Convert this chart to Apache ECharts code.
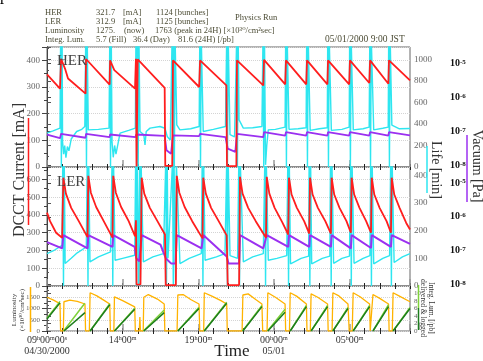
<!DOCTYPE html>
<html><head><meta charset="utf-8">
<script src="https://cdn.jsdelivr.net/npm/echarts@6/dist/echarts.min.js"></script>
<style>html,body{margin:0;padding:0;background:#fff}#c{width:483px;height:361px}</style>
</head><body><div id="c"></div>
<script>
// ---- data (hours after 09:00 04/30/2000, value) ----
const xTickHours = [0, 5, 10, 15, 20];
const xTickLabels = ['09{s|h}00{s|m}00{s|s}\n04/30/2000', '14{s|h}00{s|m}', '19{s|h}00{s|m}', '00{s|h}00{s|m}\n05/01', '05{s|h}00{s|m}'];

const herCurrent = [[0,347],[0.86,294],[0.93,406],[1.19,369],[1.39,332],[2.55,275],[2.58,405],[4.14,309],[4.17,400],[4.45,363],[5.82,294],[5.88,406],[5.92,2],[5.97,2],[6.0,404],[7.78,297],[7.82,4],[8.28,4],[8.33,400],[10.06,300],[10.12,400],[11.86,306],[11.9,3],[12.52,3],[12.56,400],[14.3,306],[14.35,402],[15.75,310],[15.8,400],[17.14,310],[17.19,400],[18.54,310],[18.58,400],[19.98,310],[20.03,400],[21.31,315],[21.36,400],[22.57,312],[22.61,400],[24,325]];

const herLife = [[0,315],[0.4,335],[0.86,361],[0.9,1200],[0.95,0],[1.0,1200],[1.03,235],[1.1,120],[1.17,200],[1.25,86],[1.35,190],[1.45,150],[1.6,260],[1.96,330],[2.3,350],[2.5,376],[2.56,1200],[2.61,0],[2.66,1200],[2.73,345],[3.4,350],[4.1,361],[4.15,1200],[4.2,0],[4.25,1200],[4.3,235],[4.38,90],[4.47,200],[4.56,120],[4.83,315],[5.4,340],[5.84,361],[5.88,1200],[5.93,0],[5.98,1200],[6.03,0],[6.08,1200],[6.15,330],[6.4,300],[6.48,206],[6.56,330],[6.81,361],[7.47,376],[7.8,360],[7.95,283],[8.15,250],[8.27,1200],[8.32,0],[8.37,1200],[8.42,0],[8.47,1200],[8.58,392],[8.79,345],[9.5,355],[10.06,376],[10.1,1200],[10.15,0],[10.2,1200],[10.33,330],[11.0,350],[11.8,376],[11.88,1200],[11.93,0],[11.98,1200],[12.1,300],[12.4,280],[12.54,1200],[12.59,0],[12.64,1200],[12.7,438],[12.98,361],[13.6,365],[14.21,376],[14.28,1200],[14.33,0],[14.38,1200],[14.45,20],[14.53,200],[14.63,345],[15.1,350],[15.74,370],[15.78,1200],[15.83,0],[15.88,1200],[16.0,350],[16.6,355],[17.13,365],[17.17,1200],[17.22,0],[17.27,1200],[17.4,340],[18.0,355],[18.53,365],[18.56,1200],[18.61,0],[18.66,1200],[18.8,340],[19.5,350],[19.98,370],[20.01,1200],[20.06,0],[20.11,1200],[20.25,345],[20.9,355],[21.3,370],[21.34,1200],[21.39,0],[21.44,1200],[21.6,345],[22.2,360],[22.56,370],[22.59,1200],[22.64,0],[22.69,1200],[22.8,390],[23.3,355],[24,358]];

const herVacuum = [[0,8.0e-8],[0.86,6.3e-8],[0.93,8.5e-8],[2.55,6.5e-8],[2.58,8.5e-8],[4.14,6.8e-8],[4.17,8.1e-8],[5.85,6.8e-8],[5.9,8.1e-8],[7.78,7.4e-8],[7.9,2.8e-8],[8.2,2.2e-8],[8.33,7.6e-8],[10.06,7.3e-8],[10.12,8.5e-8],[11.8,6.8e-8],[11.95,3.1e-8],[12.45,2.5e-8],[12.56,8.5e-8],[14.3,6.8e-8],[14.35,9.5e-8],[15.75,7.5e-8],[15.8,9.5e-8],[17.14,7.5e-8],[17.19,9.5e-8],[18.54,7.5e-8],[18.58,9.5e-8],[19.98,7.5e-8],[20.03,9.5e-8],[21.31,7.5e-8],[21.36,9.5e-8],[22.57,7.5e-8],[22.61,9.5e-8],[24,7.6e-8]];

const lerCurrent = [[0,413],[0.2,365],[0.6,300],[1.0,272],[1.08,610],[1.25,520],[1.6,440],[2.1,365],[2.68,275],[2.73,620],[2.9,525],[3.25,445],[3.75,365],[4.33,272],[4.38,620],[4.55,525],[4.9,445],[5.4,365],[5.82,280],[5.88,370],[5.92,8],[6.18,8],[6.26,610],[6.43,520],[6.8,440],[7.3,365],[7.8,290],[7.85,5],[8.52,5],[8.58,620],[8.75,525],[9.1,445],[9.6,365],[10.28,268],[10.33,610],[10.5,520],[10.85,440],[11.35,365],[11.88,285],[11.95,5],[12.7,5],[12.76,615],[12.93,520],[13.3,440],[13.8,365],[14.48,272],[14.53,615],[14.7,520],[15.05,440],[15.55,360],[15.95,290],[16.0,610],[16.17,515],[16.52,440],[17.0,365],[17.34,295],[17.39,610],[17.56,515],[17.91,440],[18.4,365],[18.77,295],[18.82,610],[18.99,515],[19.34,440],[19.8,365],[20.09,300],[20.14,610],[20.31,515],[20.66,440],[21.1,365],[21.42,300],[21.47,610],[21.64,515],[21.99,440],[22.45,365],[22.74,300],[22.79,610],[22.96,515],[23.31,440],[23.75,355],[24,318]];

const lerLife = [[0,117],[0.5,130],[1.0,147],[1.04,450],[1.09,0],[1.14,450],[1.2,81],[1.6,100],[2.0,120],[2.6,141],[2.66,450],[2.71,0],[2.76,450],[2.84,87],[3.4,105],[4.2,123],[4.3,450],[4.35,0],[4.4,450],[4.5,93],[5.0,100],[5.8,111],[5.86,450],[5.91,0],[5.96,450],[6.05,0],[6.12,450],[6.17,0],[6.22,450],[6.37,87],[7.0,105],[7.7,117],[7.85,450],[7.9,0],[7.95,450],[8.0,100],[8.3,450],[8.35,0],[8.4,450],[8.5,0],[8.55,450],[8.79,81],[9.4,100],[10.2,117],[10.26,450],[10.31,0],[10.36,450],[10.45,93],[11.2,105],[11.77,117],[11.88,450],[11.93,0],[11.98,450],[12.1,110],[12.6,100],[12.68,450],[12.73,0],[12.78,450],[12.98,87],[13.6,105],[14.3,117],[14.4,450],[14.45,0],[14.5,450],[14.63,93],[15.2,100],[15.85,110],[15.92,450],[15.97,0],[16.02,450],[16.1,80],[16.8,100],[17.3,108],[17.33,450],[17.38,0],[17.43,450],[17.5,80],[18.2,100],[18.7,108],[18.74,450],[18.79,0],[18.84,450],[18.95,82],[19.5,100],[20.0,108],[20.07,450],[20.12,0],[20.17,450],[20.3,82],[20.9,100],[21.35,110],[21.4,450],[21.45,0],[21.5,450],[21.6,80],[22.2,100],[22.65,110],[22.72,450],[22.77,0],[22.82,450],[22.95,85],[23.5,105],[24,117]];

const lerVacuum = [[0,1.8e-7],[1.0,1.17e-7],[1.08,2.9e-7],[2.68,1.17e-7],[2.73,2.9e-7],[4.33,1.3e-7],[4.38,2.9e-7],[5.8,1.3e-7],[5.9,6e-8],[6.1,4.8e-8],[6.26,2.9e-7],[7.5,1.5e-7],[7.85,6e-8],[8.2,4.2e-8],[8.5,4.2e-8],[8.58,2.9e-7],[10.22,1.17e-7],[10.33,2.9e-7],[11.88,6.7e-8],[12.0,4.2e-8],[12.7,4.2e-8],[12.76,2.9e-7],[14.3,1.17e-7],[14.53,2.9e-7],[15.95,1.3e-7],[16.0,2.9e-7],[17.34,1.3e-7],[17.39,2.9e-7],[18.77,1.3e-7],[18.82,2.9e-7],[20.09,1.17e-7],[20.14,2.9e-7],[21.42,1.2e-7],[21.47,2.9e-7],[22.74,1.3e-7],[22.79,2.9e-7],[24,1.6e-7]];

const luminosity = [[0,1500],[0.4,1380],[0.86,1220],[0.9,0],[1.08,0],[1.12,1300],[1.5,1370],[2.0,1320],[2.51,1200],[2.55,0],[2.8,0],[2.85,1700],[3.3,1560],[3.8,1350],[4.15,1200],[4.19,0],[4.42,0],[4.46,1520],[5.0,1350],[5.8,1070],[5.84,0],[6.1,0],[6.14,620],[6.18,0],[6.36,0],[6.4,1500],[6.7,1620],[7.3,1420],[7.75,1200],[7.79,0],[8.6,0],[8.65,1600],[9.0,1620],[9.5,1400],[10.05,1200],[10.1,0],[10.36,0],[10.4,1700],[10.9,1550],[11.5,1350],[11.88,1200],[11.92,0],[12.9,0],[12.95,1600],[13.3,1650],[13.8,1400],[14.21,1200],[14.26,0],[14.55,0],[14.6,1700],[15.1,1500],[15.74,1200],[15.78,0],[16.03,0],[16.08,1700],[16.5,1550],[17.15,1200],[17.19,0],[17.41,0],[17.46,1650],[17.9,1500],[18.55,1200],[18.59,0],[18.85,0],[18.9,1700],[19.3,1560],[19.9,1200],[19.98,0],[20.18,0],[20.24,1700],[20.7,1520],[21.33,1200],[21.37,0],[21.5,0],[21.55,1620],[22.0,1450],[22.58,1200],[22.62,0],[22.83,0],[22.88,1700],[23.3,1550],[24,1300]];

const integLogged = [[0,3.2],[0.86,7.5],[0.87,'-'],[1.12,0],[2.51,4.9],[2.52,'-'],[2.85,0],[4.15,7.0],[4.16,'-'],[4.46,0],[5.8,5.8],[5.81,'-'],[6.4,0],[7.75,4.9],[7.76,'-'],[8.65,0],[10.05,6.0],[10.06,'-'],[10.4,0],[11.88,7.4],[11.89,'-'],[12.95,0],[14.21,6.5],[14.22,'-'],[14.6,0],[15.74,5.0],[15.75,'-'],[16.08,0],[17.15,6.5],[17.16,'-'],[17.46,0],[18.55,6.5],[18.56,'-'],[18.9,0],[19.9,6.0],[19.91,'-'],[20.24,0],[21.33,6.5],[21.34,'-'],[21.55,0],[22.58,6.5],[22.59,'-'],[22.88,0],[24,6.0]];

const integDelivered = [[0,3.4],[0.86,7.9],[0.87,'-'],[1.1,0],[2.5,7.4],[2.51,'-'],[2.85,0],[4.15,7.3],[4.16,'-'],[4.46,0],[5.8,6.1],[5.81,'-'],[6.37,0],[7.75,5.6],[7.76,'-'],[8.65,0],[10.05,6.3],[10.06,'-'],[10.38,0],[11.88,7.7],[11.89,'-'],[12.93,0],[14.21,6.8],[14.22,'-'],[14.58,0],[15.74,5.8],[15.75,'-'],[16.08,0],[17.15,6.8],[17.16,'-'],[17.46,0],[18.55,6.8],[18.56,'-'],[18.9,0],[19.9,6.3],[19.91,'-'],[20.24,0],[21.33,6.8],[21.34,'-'],[21.55,0],[22.58,7.0],[22.59,'-'],[22.88,0],[24,6.3]];

// ---- styling / layout ----
const SERIF = "'Liberation Serif','DejaVu Serif',serif";
const RED = '#ff1e1e', CYAN = '#2ee6f0', PURPLE = '#9b30f0', ORANGE = '#ffb300', DKGREEN = '#1d7d1d', LTGREEN = '#7fd23a';
const grids = [{left:47, top:47, width:363, height:120}, {left:47, top:167, width:363, height:119}, {left:47, top:286, width:363, height:45}]
  .map(g => Object.assign({show:true, borderColor:'#666', borderWidth:1, backgroundColor:'transparent'}, g));

const xAxes = [];
for (let g = 0; g < 3; g++) {
  xAxes.push({type:'value', gridIndex:g, position:'bottom', min:0, max:24, interval:1,
    axisLine:{show:false}, splitLine:{show:false}, axisLabel:{show:false},
    axisTick:{show:true, inside:true, length:3, lineStyle:{color:'#222', width:1}}});
  xAxes.push({type:'value', gridIndex:g, position:'top', min:0, max:24, interval:1,
    axisLine:{show:false}, splitLine:{show:false}, axisLabel:{show:false},
    axisTick:{show:true, inside:true, length:3, lineStyle:{color:'#222', width:1}}});
  xAxes.push({type:'value', gridIndex:g, position:'bottom', min:0, max:24, interval:5,
    axisLine:{show:false}, splitLine:{show:false},
    axisTick:{show:true, inside:true, length:7, lineStyle:{color:'#999', width:1.5}},
    axisLabel:{show:g===2, margin:4, color:'#333', fontFamily:SERIF, fontSize:10, lineHeight:11,
      formatter: v => { const i = xTickHours.indexOf(Math.round(v)); return (i >= 0 && Math.abs(v - xTickHours[i]) < 1e-6) ? xTickLabels[i] : ''; },
      rich:{s:{fontSize:6, fontFamily:SERIF, color:'#333', verticalAlign:'top', lineHeight:11}}}});
}

const plain = v => String(Math.round(v * 1000) / 1000);
function leftAxis(g, max, interval, fs) {
  return {type:'value', gridIndex:g, position:'left', min:0, max:max, interval:interval,
    axisLine:{show:true, lineStyle:{color:'#333'}},
    axisTick:{show:true, inside:false, length:5, lineStyle:{color:'#444'}},
    minorTick:{show:true, splitNumber:2, length:3, lineStyle:{color:'#444'}},
    axisLabel:{show:true, margin:7, fontSize:fs, color:'#666', fontFamily:SERIF, showMaxLabel:false, formatter:plain},
    splitLine:{show:true, lineStyle:{color:'#d4d4d4', type:'dotted'}}};
}
function rightAxis(g, max, interval, fs) {
  return {type:'value', gridIndex:g, position:'right', min:0, max:max, interval:interval,
    axisLine:{show:true, lineStyle:{color:'#666'}},
    axisTick:{show:true, inside:false, length:4, lineStyle:{color:'#555'}},
    minorTick:{show:true, splitNumber:2, length:2, lineStyle:{color:'#555'}},
    axisLabel:{show:true, margin:4, fontSize:fs, color:'#666', fontFamily:SERIF, showMaxLabel:false, formatter:plain},
    splitLine:{show:false}};
}
function vacAxis(g) {
  return {type:'log', logBase:10, gridIndex:g, position:'right', offset:35, min:9e-9, max:3e-5,
    axisLine:{show:true, lineStyle:{color:'#444'}},
    axisTick:{show:true, inside:false, length:4, lineStyle:{color:'#444'}},
    axisLabel:{show:true, margin:5, color:'#111', fontFamily:SERIF, fontSize:10, fontWeight:'bold',
      showMinLabel:false, showMaxLabel:false,
      formatter: v => '10{s|' + Math.round(Math.log10(v)) + '}',
      rich:{s:{fontSize:7, fontFamily:SERIF, fontWeight:'bold', color:'#111', verticalAlign:'top'}}},
    splitLine:{show:false}};
}
const yAxes = [
  leftAxis(0, 450, 100, 9), rightAxis(0, 1115, 200, 9), vacAxis(0),
  leftAxis(1, 670, 100, 9), rightAxis(1, 430, 100, 9), vacAxis(1),
  leftAxis(2, 2000, 500, 7), rightAxis(2, 12, 2, 7)
];

function line(data, xi, yi, color, w, z) {
  return {type:'line', data:data, xAxisIndex:xi, yAxisIndex:yi, showSymbol:false, symbol:'none',
    lineStyle:{color:color, width:w}, itemStyle:{color:color}, z:z, connectNulls:false, clip:true, animation:false};
}
const series = [
  line(herLife, 0, 1, CYAN, 1.4, 2), line(herVacuum, 0, 2, PURPLE, 1.8, 3), line(herCurrent, 0, 0, RED, 1.8, 4),
  line(lerLife, 3, 4, CYAN, 1.4, 2), line(lerVacuum, 3, 5, PURPLE, 2, 3), line(lerCurrent, 3, 3, RED, 1.8, 4),
  line(luminosity, 6, 6, ORANGE, 1.3, 2), line(integDelivered, 6, 7, LTGREEN, 1.5, 3), line(integLogged, 6, 7, DKGREEN, 1.5, 4)
];

// ---- text ----
const HC = '#4d4d36';
const HF = 8.5;
function t(x, y, text, size, color, extra) {
  return Object.assign({type:'text', x:x, y:y, z:100, style:{text:text, fill:color||HC, font:(size||HF)+'px '+SERIF, align:'left', verticalAlign:'middle'}}, extra||{});
}
function rt(x, y, text, size, color, rot) {
  return {type:'text', x:x, y:y, rotation:rot, z:100, style:{text:text, fill:color, font:size+'px '+SERIF, align:'center', verticalAlign:'middle'}};
}
function vl(x, y1, y2, color, w) {
  return {type:'line', z:100, shape:{x1:x, y1:y1, x2:x, y2:y2}, style:{stroke:color, lineWidth:w||1.5}};
}
const graphics = [
  t(0, -4, 'p', 16, '#000'),
  t(45, 13, 'HER'), t(96, 13, '321.7'), t(123, 13, '[mA]'), t(156, 13, '1124 [bunches]'),
  t(45, 22, 'LER'), t(96, 22, '312.9'), t(123, 22, '[mA]'), t(156, 22, '1125 [bunches]'),
  t(235, 18, 'Physics Run'),
  t(45, 31, 'Luminosity'), t(96, 31, '1275.'), t(124, 31, '(now)'), t(155, 31, '1763 (peak in 24H) [×10³⁰/cm²sec]'),
  t(45, 40, 'Integ. Lum.'), t(96, 40, '5.7 (Fill)'), t(133, 40, '36.4 (Day)'), t(178, 40, '81.6 (24H) [/pb]'),
  t(325, 39, '05/01/2000 9:00 JST', 9.5),
  t(57, 61, 'HER', 15, '#444'), t(57, 182, 'LER', 15, '#444'),
  rt(20, 170, 'DCCT Current [mA]', 16, '#333', Math.PI/2), vl(28.5, 118, 225, RED),
  rt(436, 170, 'Life [min]', 14, '#333', -Math.PI/2), vl(427, 146, 193, CYAN),
  rt(477, 166, 'Vacuum [Pa]', 14, '#333', -Math.PI/2), vl(467, 135, 202, PURPLE),
  rt(14, 310, 'Luminosity', 7, '#333', Math.PI/2), rt(22, 310, '(×10³⁰/cm²sec)', 7, '#333', Math.PI/2), vl(30.5, 287, 332, ORANGE),
  rt(431, 308, 'Integ. Lum. [/pb]', 7.5, '#333', -Math.PI/2), rt(423, 308, 'delivered & logged', 7.5, '#333', -Math.PI/2),
  vl(418.5, 285, 308, LTGREEN), vl(418.5, 308, 330, DKGREEN),
  rt(232, 352, 'Time', 17, '#222', 0)
];

const chart = echarts.init(document.getElementById('c'), null, {renderer:'canvas', width:483, height:361});
chart.setOption({
  animation:false, backgroundColor:'#fff',
  textStyle:{fontFamily:SERIF},
  grid:grids, xAxis:xAxes, yAxis:yAxes, series:series, graphic:graphics
});
</script></body></html>
